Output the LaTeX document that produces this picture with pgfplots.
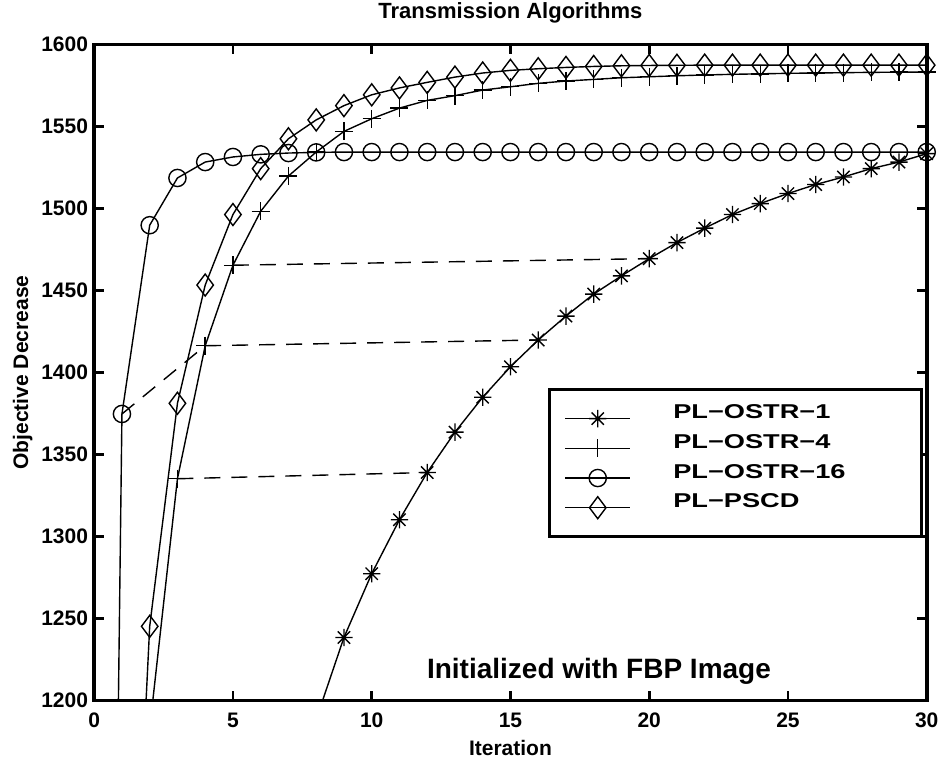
\documentclass[border=0pt]{standalone}
\usepackage{fontspec}
\setmainfont{Liberation Sans}
\usepackage{graphicx}
\usepackage{pgfplots}
\usepackage{pgfplotstable}
\pgfplotsset{compat=1.18}

% MATLAB-style asterisk: plus and cross together
\pgfdeclareplotmark{mstar}{%
  \pgfpathmoveto{\pgfqpoint{-\pgfplotmarksize}{0pt}}\pgfpathlineto{\pgfqpoint{\pgfplotmarksize}{0pt}}%
  \pgfpathmoveto{\pgfqpoint{0pt}{-\pgfplotmarksize}}\pgfpathlineto{\pgfqpoint{0pt}{\pgfplotmarksize}}%
  \pgfpathmoveto{\pgfqpoint{-.707\pgfplotmarksize}{-.707\pgfplotmarksize}}\pgfpathlineto{\pgfqpoint{.707\pgfplotmarksize}{.707\pgfplotmarksize}}%
  \pgfpathmoveto{\pgfqpoint{-.707\pgfplotmarksize}{.707\pgfplotmarksize}}\pgfpathlineto{\pgfqpoint{.707\pgfplotmarksize}{-.707\pgfplotmarksize}}%
  \pgfusepathqstroke}

\pgfplotstableread{
x y
7 1120
8 1188.5
9 1238.4
10 1277.3
11 1310.2
12 1339.0
13 1363.6
14 1384.9
15 1403.5
16 1419.8
17 1434.4
18 1447.8
19 1458.9
20 1469.4
21 1479.2
22 1488.0
23 1496.3
24 1503.0
25 1509.1
26 1514.6
27 1519.2
28 1524.3
29 1528.3
30 1533.4
}\ostrone

\pgfplotstableread{
x y
0 0
1 900
2 1183
3 1335.2
4 1416.3
5 1465.4
6 1498.3
7 1519.8
8 1534.4
9 1547.0
10 1554.7
11 1561.2
12 1565.9
13 1568.8
14 1572.2
15 1574.2
16 1576.3
17 1577.7
18 1578.7
19 1579.7
20 1580.3
21 1580.9
22 1581.4
23 1581.8
24 1582.1
25 1582.4
26 1582.6
27 1582.8
28 1583.0
29 1583.1
30 1583.2
}\ostrfour

\pgfplotstableread{
x y
0 0
1 1374.7
2 1489.8
3 1518.6
4 1528.3
5 1531.4
6 1533.0
7 1533.8
8 1534.2
9 1534.4
10 1534.4
11 1534.4
12 1534.4
13 1534.4
14 1534.4
15 1534.4
16 1534.4
17 1534.4
18 1534.4
19 1534.4
20 1534.4
21 1534.4
22 1534.4
23 1534.4
24 1534.4
25 1534.4
26 1534.4
27 1534.4
28 1534.4
29 1534.4
30 1534.4
}\ostrsixteen

\pgfplotstableread{
x y
0 0
1 899
2 1245.2
3 1381.2
4 1453.3
5 1496.3
6 1524.3
7 1542.5
8 1554.0
9 1562.7
10 1569.3
11 1573.5
12 1576.9
13 1580.1
14 1582.6
15 1584.2
16 1585.2
17 1586.0
18 1586.6
19 1587.0
20 1587.2
21 1587.3
22 1587.4
23 1587.4
24 1587.4
25 1587.4
26 1587.4
27 1587.4
28 1587.4
29 1587.4
30 1587.4
}\pscd

\begin{document}
\begin{tikzpicture}
\begin{axis}[
  scale only axis,
  width=832.5pt, height=656pt,
  xmin=0, xmax=30, ymin=1200, ymax=1600,
  xtick={0,5,...,30},
  ytick={1200,1250,...,1600},
  xtick pos=both, ytick pos=both,
  xtick align=inside, ytick align=inside,
  major tick length=9.5pt,
  tick style={draw=black, line width=2.6pt},
  axis line style={line width=3.6pt},
  /pgf/number format/assume math mode=true,
  /pgf/number format/1000 sep={},
  tick label style={font=\fontsize{21}{25}\selectfont\bfseries},
  xticklabel style={anchor=north, inner sep=0pt, yshift=-12pt},
  yticklabel style={anchor=east, inner sep=0pt, xshift=-6pt},
  title={Transmission Algorithms},
  title style={at={(0.5,1)}, anchor=base, yshift=19.5pt, font=\fontsize{22}{26}\selectfont\bfseries},
  xlabel={Iteration},
  xlabel style={at={(0.5,0)}, anchor=base, yshift=-54.7pt, font=\fontsize{21}{25}\selectfont\bfseries},
  ylabel={Objective Decrease},
  ylabel style={at={(-0.0795,0.5)}, anchor=base, font=\fontsize{21}{25}\selectfont\bfseries},
  legend style={at={(0.9955,0.476)}, anchor=north east, draw=black, line width=2.8pt,
    fill=white, inner xsep=15.7pt, inner ysep=14.5pt, row sep=1.2pt, column sep=43pt,
    cells={anchor=base west},
    nodes={inner sep=0pt, text height=14.5pt, text depth=14pt},
    font=\fontsize{20}{24}\selectfont\bfseries},
  legend image code/.code={
    \path[draw=none, fill=none] (0pt,0pt) rectangle (65pt,14.5pt);
    \draw[overlay, black, line width=1.4pt] (0pt,0pt) -- (65pt,0pt);
    \draw[overlay, #1] plot coordinates {(32.5pt,0pt)};
  },
]
% curves (clipped), markers only where inside the axis
\addplot[black, line width=1.4pt, forget plot] table {\ostrone};
\addplot[black, only marks, mark=mstar, mark size=8.7pt, line width=1.4pt, restrict y to domain=1199:1601] table {\ostrone};
\addlegendentry{\makebox[232.6pt][l]{\scalebox{1.36}[1]{PL−OSTR−1}}}

\addplot[black, line width=1.4pt, forget plot] table {\ostrfour};
\addplot[black, only marks, mark=+, mark size=9pt, line width=1.4pt, restrict y to domain=1199:1601] table {\ostrfour};
\addlegendentry{\makebox[232.6pt][l]{\scalebox{1.36}[1]{PL−OSTR−4}}}

\addplot[black, line width=1.4pt, forget plot] table {\ostrsixteen};
\addplot[black, only marks, mark=o, mark size=8.6pt, line width=1.4pt, restrict y to domain=1199:1601] table {\ostrsixteen};
\addlegendentry{\makebox[232.6pt][l]{\scalebox{1.36}[1]{PL−OSTR−16}}}

\addplot[black, line width=1.4pt, forget plot] table {\pscd};
\addplot[black, only marks, mark=diamond, mark size=11pt, line width=1.4pt, restrict y to domain=1199:1601] table {\pscd};
\addlegendentry{\makebox[232.6pt][l]{\scalebox{1.36}[1]{PL−PSCD}}}

% equivalence links between the algorithms
\addplot[black, line width=1.4pt, dash pattern=on 16pt off 11pt, forget plot] coordinates {(1,1374.7) (4,1416.3)};
\addplot[black, line width=1.4pt, dash pattern=on 16pt off 11pt, forget plot] coordinates {(4,1416.3) (16,1419.8)};
\addplot[black, line width=1.4pt, dash pattern=on 16pt off 11pt, forget plot] coordinates {(3,1335.2) (12,1339.0)};
\addplot[black, line width=1.4pt, dash pattern=on 16pt off 11pt, forget plot] coordinates {(5,1465.4) (20,1469.4)};

\node[anchor=base, font=\fontsize{28}{32}\selectfont\bfseries] at (axis cs:18.19,1213.6) {Initialized with FBP Image};
\end{axis}
\pgfresetboundingbox
\path ([shift={(-94.2pt,-60.7pt)}]current axis.south west) rectangle ([shift={(16.3pt,44.5pt)}]current axis.north east);
\end{tikzpicture}
\end{document}
